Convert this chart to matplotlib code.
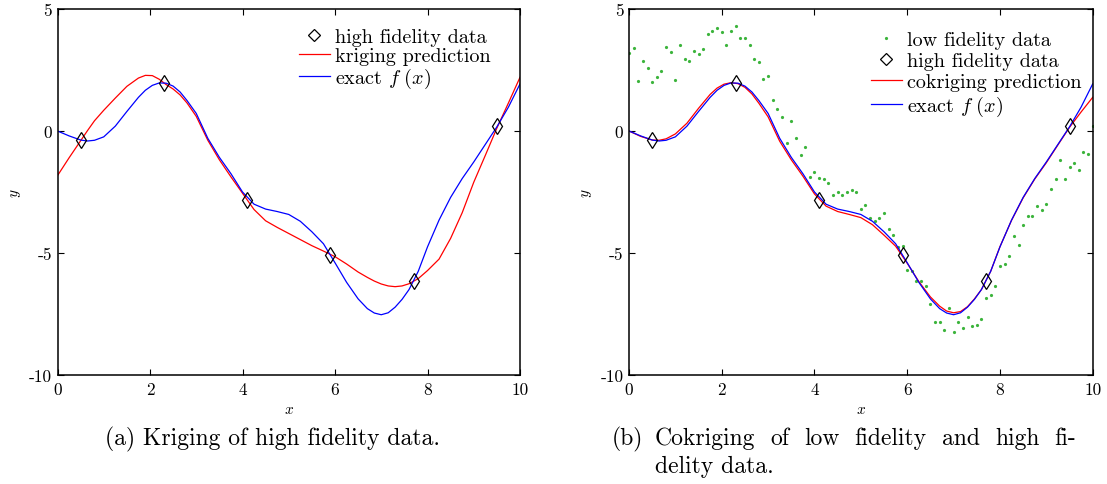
import matplotlib.pyplot as plt
from matplotlib.lines import Line2D
import numpy as np

plt.rcParams['font.family'] = 'serif'
plt.rcParams['font.serif'] = ['cmr10', 'DejaVu Serif']
plt.rcParams['mathtext.fontset'] = 'cm'
plt.rcParams['axes.unicode_minus'] = False

x_curve = [0, 0.25, 0.5, 0.65, 0.8, 1.0, 1.25, 1.5, 1.75, 1.9, 2.05, 2.2, 2.35, 2.5,
           2.65, 2.8, 3.0, 3.25, 3.5, 3.75, 4.0, 4.25, 4.5, 4.75, 5.0, 5.25, 5.5, 5.75,
           6.0, 6.25, 6.5, 6.7, 6.85, 7.0, 7.15, 7.3, 7.45, 7.6, 7.8, 8.0, 8.25, 8.5,
           8.75, 9.0, 9.25, 9.5, 9.75, 10.0]

# exact f(x)
exact = [0.0, -0.2, -0.37, -0.41, -0.38, -0.24, 0.2, 0.8, 1.38, 1.67, 1.87, 1.97, 1.96,
         1.84, 1.6, 1.25, 0.72, -0.3, -1.08, -1.75, -2.5, -3.0, -3.2, -3.3, -3.42, -3.7,
         -4.13, -4.62, -5.4, -6.2, -6.88, -7.28, -7.46, -7.53, -7.45, -7.22, -6.9, -6.5,
         -5.75, -4.75, -3.65, -2.72, -1.95, -1.27, -0.55, 0.17, 0.98, 1.93]

# kriging prediction (high fidelity data only)
kriging = [-1.83, -1.1, -0.4, 0.02, 0.42, 0.85, 1.35, 1.83, 2.17, 2.28, 2.27, 2.12, 1.9,
           1.72, 1.48, 1.15, 0.6, -0.38, -1.18, -1.88, -2.55, -3.22, -3.68, -3.95, -4.2,
           -4.45, -4.7, -4.92, -5.15, -5.45, -5.78, -6.0, -6.15, -6.27, -6.35, -6.38,
           -6.35, -6.26, -6.05, -5.72, -5.25, -4.4, -3.35, -2.1, -1.0, 0.12, 1.15, 2.2]

# cokriging prediction (low + high fidelity data)
cokriging = [0.0, -0.22, -0.37, -0.38, -0.32, -0.12, 0.32, 0.93, 1.5, 1.76, 1.92, 1.98,
             1.94, 1.79, 1.52, 1.14, 0.58, -0.42, -1.18, -1.85, -2.58, -3.08, -3.3, -3.42,
             -3.55, -3.84, -4.27, -4.72, -5.42, -6.17, -6.8, -7.18, -7.38, -7.45, -7.4,
             -7.2, -6.88, -6.5, -5.75, -4.74, -3.66, -2.74, -1.97, -1.3, -0.57, 0.15,
             0.78, 1.38]

# high fidelity samples
x_high = [0.5, 2.3, 4.1, 5.9, 7.7, 9.5]
y_high = [-0.38, 1.95, -2.82, -5.08, -6.16, 0.2]

# low fidelity samples at x = 0, 0.1, ..., 10
x_low = np.linspace(0, 10, 101)
y_low = [3.18, 3.40, 2.05, 2.86, 2.58, 2.01, 2.23, 2.45, 3.43, 3.23,
         2.08, 3.51, 2.94, 2.86, 3.27, 3.16, 3.35, 3.99, 4.09, 4.21,
         4.05, 3.52, 4.09, 4.29, 3.82, 3.82, 3.51, 2.94, 2.82, 2.13,
         2.27, 1.27, 0.89, 0.56, -0.50, 0.42, -0.29, -0.98, -0.67, -1.90,
         -1.67, -1.94, -1.95, -2.13, -2.62, -2.49, -2.62, -2.49, -2.42, -2.51,
         -3.21, -3.05, -3.58, -3.70, -3.58, -3.36, -4.0, -4.26, -4.75, -4.70,
         -5.71, -5.75, -6.15, -6.16, -6.34, -7.09, -7.84, -7.84, -8.14, -7.25,
         -8.23, -7.82, -8.07, -7.64, -7.98, -7.96, -7.72, -6.84, -6.71, -6.35,
         -5.52, -5.46, -5.11, -4.32, -4.67, -3.85, -3.50, -3.50, -3.06, -3.23,
         -2.98, -2.38, -1.97, -1.19, -1.97, -1.49, -1.31, -1.61, -0.87, -0.95,
         0.19]

xticks = [0, 2, 4, 6, 8, 10]
yticks = [-10, -5, 0, 5]
ytick_labels = ['-10', '-5', '0', '5']

W, H = 1107, 485
fig = plt.figure(figsize=(W / 100, H / 100), dpi=100)
ax1 = fig.add_axes([57.5 / W, 1 - 376 / H, 462.5 / W, 366 / H])
ax2 = fig.add_axes([629 / W, 1 - 376 / H, 463.7 / W, 366 / H])

green = '#3cb43c'
diam = dict(marker='d', ls='none', mfc='none', mec='black', ms=8.5, mew=0.9)
diam_leg = dict(marker='D', ls='none', mfc='none', mec='black', ms=6.5, mew=0.9)
leg_fs = 14.5

# (a) kriging
ax1.plot(x_curve, kriging, color='red', lw=0.9)
ax1.plot(x_curve, exact, color='blue', lw=0.9)
ax1.plot(x_high, y_high, **diam)
h1 = [Line2D([], [], **diam_leg),
      Line2D([], [], color='red', lw=0.9),
      Line2D([], [], color='blue', lw=0.9)]
ax1.legend(h1, ['high fidelity data', 'kriging prediction', r'exact $f\ (x)$'],
           loc='upper left', bbox_to_anchor=(0.523, 0.947), frameon=False,
           fontsize=leg_fs, handlelength=1.5, handletextpad=0.25, labelspacing=0.03,
           borderpad=0, borderaxespad=0)

# (b) cokriging
ax2.plot(x_low, y_low, 'o', color=green, ms=2.3, mew=0)
ax2.plot(x_curve, cokriging, color='red', lw=0.9)
ax2.plot(x_curve, exact, color='blue', lw=0.9)
ax2.plot(x_high, y_high, **diam)
h2 = [Line2D([], [], marker='o', ls='none', color=green, ms=2.3, mew=0),
      Line2D([], [], **diam_leg),
      Line2D([], [], color='red', lw=0.9),
      Line2D([], [], color='blue', lw=0.9)]
ax2.legend(h2, ['low fidelity data', 'high fidelity data', 'cokriging prediction',
                r'exact $f\ (x)$'],
           loc='upper left', bbox_to_anchor=(0.521, 0.940), frameon=False,
           fontsize=leg_fs, handlelength=1.57, handletextpad=0.22, labelspacing=0.14,
           borderpad=0, borderaxespad=0)

for ax in (ax1, ax2):
    ax.set_xlim(0, 10)
    ax.set_ylim(-10, 5)
    ax.set_xticks(xticks)
    ax.set_xticklabels([str(t) for t in xticks])
    ax.set_yticks(yticks)
    ax.set_yticklabels(ytick_labels)
    ax.tick_params(direction='in', top=True, right=True, length=4, width=0.8,
                   labelsize=12.5, pad=4)
    ax.tick_params(axis='x', pad=5)
    for s in ax.spines.values():
        s.set_linewidth(1.1)
    ax.set_xlabel(r'$x$', fontsize=11)
    ax.set_ylabel(r'$y$', fontsize=11)
    ax.xaxis.set_label_coords(0.5, -0.075)
    ax.yaxis.set_label_coords(-0.075, 0.5)

# sub-captions
cap_fs = 17
fig.text(105 / W, 1 - 445 / H, '(a) Kriging of high fidelity data.', ha='left',
         va='baseline', fontsize=cap_fs)

# (b) is a justified two-line caption with a hanging indent
fig.text(612 / W, 1 - 445 / H, '(b)', ha='left', va='baseline', fontsize=cap_fs)
line1 = ['Cokriging', 'of', 'low', 'fidelity', 'and', 'high', 'fi-']
texts = [fig.text(0, 1 - 445 / H, w, ha='left', va='baseline', fontsize=cap_fs)
         for w in line1]
rend = fig.canvas.get_renderer()
widths = [t.get_window_extent(rend).width for t in texts]
x0, x1 = 655, 1076
gap = (x1 - x0 - sum(widths)) / (len(line1) - 1)
xpos = x0
for t, w in zip(texts, widths):
    t.set_x(xpos / W)
    xpos += w + gap
fig.text(x0 / W, 1 - 473 / H, 'delity data.', ha='left', va='baseline', fontsize=cap_fs)

fig.savefig('out.png', dpi=100)
